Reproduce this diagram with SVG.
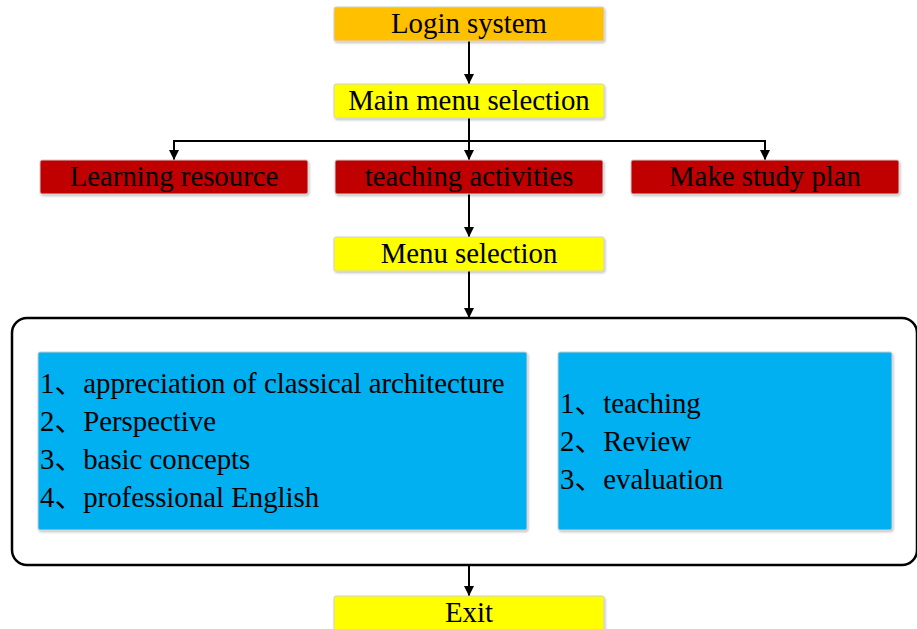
<svg xmlns="http://www.w3.org/2000/svg" width="917" height="629" viewBox="0 0 917 629">
<style>
.t{font-family:"Liberation Serif","Noto Sans CJK SC",serif;font-size:28.8px;fill:#000}
.c{text-anchor:middle}
.box{stroke:#d0d0d0;stroke-width:1;filter:url(#sh)}
.ln{stroke:#000;stroke-width:2;fill:none}
</style>
<defs>
<filter id="sh" x="-5%" y="-20%" width="110%" height="140%">
<feDropShadow dx="1" dy="1.5" stdDeviation="1" flood-color="#000" flood-opacity="0.25"/>
</filter>
<marker id="ah" viewBox="0 0 10 10" refX="10" refY="5" markerWidth="5" markerHeight="5" orient="auto" markerUnits="strokeWidth">
<path d="M0,0 L10,5 L0,10 z" fill="#000"/>
</marker>
</defs>
<rect width="917" height="629" fill="#fff"/>
<g id="connectors">
<path class="ln" d="M469,41 V84" marker-end="url(#ah)"/>
<path class="ln" d="M469,118 V160" marker-end="url(#ah)"/>
<path class="ln" d="M469,141 H174 V160" marker-end="url(#ah)"/>
<path class="ln" d="M469,141 H765 V160" marker-end="url(#ah)"/>
<path class="ln" d="M469,194 V237" marker-end="url(#ah)"/>
<path class="ln" d="M469,271 V318" marker-end="url(#ah)"/>
<path class="ln" d="M469,565 V596" marker-end="url(#ah)"/>
</g>
<g id="login">
<rect class="box" x="334" y="7" width="270" height="34" rx="2" fill="#FFC000"/>
<text class="t c" x="469" y="33">Login system</text>
</g>
<g id="mainmenu">
<rect class="box" x="334" y="84" width="270" height="34" rx="2" fill="#FFFF00"/>
<text class="t c" x="469" y="110">Main menu selection</text>
</g>
<g id="learning">
<rect class="box" x="40" y="160" width="268" height="34" rx="2" fill="#C00000"/>
<text class="t c" x="174" y="186">Learning resource</text>
</g>
<g id="teaching">
<rect class="box" x="335" y="160" width="268" height="34" rx="2" fill="#C00000"/>
<text class="t c" x="469" y="186">teaching activities</text>
</g>
<g id="plan">
<rect class="box" x="631" y="160" width="268" height="34" rx="2" fill="#C00000"/>
<text class="t c" x="765" y="186">Make study plan</text>
</g>
<g id="menusel">
<rect class="box" x="334" y="237" width="270" height="34" rx="2" fill="#FFFF00"/>
<text class="t c" x="469" y="263">Menu selection</text>
</g>
<g id="container">
<rect x="12" y="318" width="905" height="247" rx="15" fill="none" stroke="#000" stroke-width="2.5"/>
</g>
<g id="resources">
<rect class="box" x="38" y="352" width="489" height="178" rx="2" fill="#00B0F0"/>
<text class="t" x="40" y="393">1、appreciation of classical architecture</text>
<text class="t" x="40" y="431">2、Perspective</text>
<text class="t" x="40" y="469">3、basic concepts</text>
<text class="t" x="40" y="507">4、professional English</text>
</g>
<g id="activities">
<rect class="box" x="558" y="352" width="334" height="178" rx="2" fill="#00B0F0"/>
<text class="t" x="560" y="413">1、teaching</text>
<text class="t" x="560" y="451">2、Review</text>
<text class="t" x="560" y="489">3、evaluation</text>
</g>
<g id="exit">
<rect class="box" x="334" y="596" width="270" height="40" rx="2" fill="#FFFF00"/>
<text class="t c" x="469" y="622">Exit</text>
</g>
</svg>
